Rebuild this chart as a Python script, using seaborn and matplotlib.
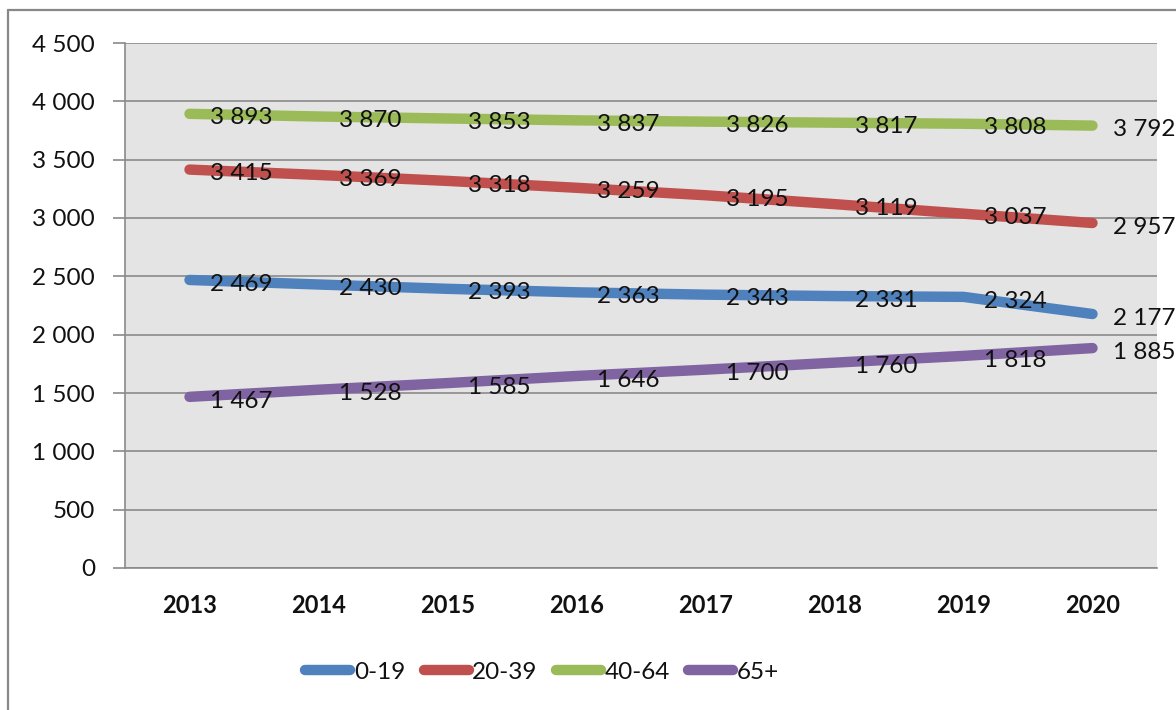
import matplotlib
matplotlib.use("Agg")
import matplotlib.pyplot as plt
import seaborn as sns
import pandas as pd
from matplotlib.lines import Line2D

years = ["2013", "2014", "2015", "2016", "2017", "2018", "2019", "2020"]
series_names = ["0-19", "20-39", "40-64", "65+"]
age_0_19 = [2469, 2430, 2393, 2363, 2343, 2331, 2324, 2177]
age_20_39 = [3415, 3369, 3318, 3259, 3195, 3119, 3037, 2957]
age_40_64 = [3893, 3870, 3853, 3837, 3826, 3817, 3808, 3792]
age_65 = [1467, 1528, 1585, 1646, 1700, 1760, 1818, 1885]
yticks = [0, 500, 1000, 1500, 2000, 2500, 3000, 3500, 4000, 4500]

colors = ["#4F81BD", "#C0504D", "#9BBB59", "#8064A2"]
values = [age_0_19, age_20_39, age_40_64, age_65]

rows = []
for name, vals in zip(series_names, values):
    for i, (yr, v) in enumerate(zip(years, vals)):
        rows.append({"idx": i, "year": yr, "value": v, "group": name})
df = pd.DataFrame(rows)

sns.set_theme(style="white")
plt.rcParams["font.family"] = ["Lato", "DejaVu Sans"]

def fmt(v):
    return f"{v:,}".replace(",", " ")

TXT = "#111111"
FS = 17.5

fig = plt.figure(figsize=(11.76, 7.10), dpi=100)
ax = fig.add_axes([125 / 1176, 1 - 568 / 710, (1157 - 125) / 1176, (568 - 43) / 710])
ax.set_facecolor("#E4E4E4")

sns.lineplot(data=df, x="idx", y="value", hue="group", hue_order=series_names,
             palette=colors, linewidth=7.5, ax=ax, legend=False,
             solid_capstyle="round", zorder=3)

for name, vals in zip(series_names, values):
    for i, v in enumerate(vals):
        ax.annotate(fmt(v), xy=(i, v), xytext=(15, -3), textcoords="offset points",
                    ha="left", va="center", fontsize=FS, color=TXT,
                    zorder=5, annotation_clip=False)

ax.set_xlim(-0.5, 7.5)
ax.set_ylim(0, 4500)
ax.set_yticks(yticks)
ax.set_yticklabels([fmt(t) for t in yticks], fontsize=FS, color=TXT)
ax.yaxis.grid(True, color="#8A8A8A", linewidth=1.2, zorder=1)
ax.set_axisbelow(True)

ax.set_xticks([i - 0.5 for i in range(len(years) + 1)])
ax.set_xticklabels([])
ax.set_xticks(list(range(len(years))), minor=True)
ax.set_xticklabels(years, minor=True, fontsize=FS - 0.5, fontweight="bold", color=TXT)
ax.tick_params(axis="x", which="major", direction="out", length=7, width=1.2, color="#8A8A8A")
ax.tick_params(axis="x", which="minor", length=0, pad=19)
ax.tick_params(axis="y", direction="out", length=8.5, width=1.2, color="#8A8A8A", pad=13, left=True)

for s in ["top", "right"]:
    ax.spines[s].set_visible(False)
for s in ["left", "bottom"]:
    ax.spines[s].set_color("#8A8A8A")
    ax.spines[s].set_linewidth(1.2)

ax.set_xlabel("")
ax.set_ylabel("")

handles = [Line2D([0], [0], color=c, lw=7.5, solid_capstyle="round") for c in colors]
leg = fig.legend(handles, series_names, loc="center", bbox_to_anchor=(0.461, 1 - 672 / 710),
                 ncol=4, frameon=False, fontsize=FS, handlelength=1.85, handletextpad=0.15,
                 columnspacing=0.75)
for t in leg.get_texts():
    t.set_color(TXT)

# outer chart border (left and top visible)
fig.add_artist(Line2D([8 / 1176, 8 / 1176], [0, 1 - 10 / 710], transform=fig.transFigure,
                      color="#888888", lw=1.6))
fig.add_artist(Line2D([8 / 1176, 1], [1 - 10 / 710, 1 - 10 / 710], transform=fig.transFigure,
                      color="#888888", lw=1.6))

fig.savefig("out.png", dpi=100)
